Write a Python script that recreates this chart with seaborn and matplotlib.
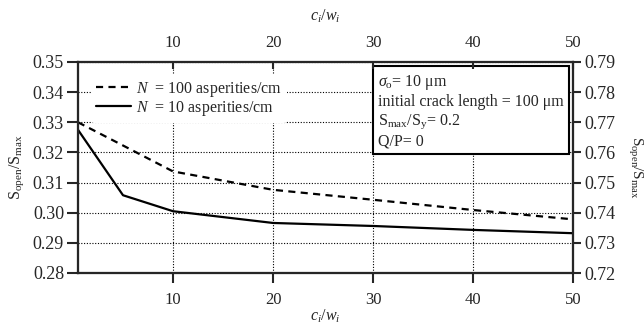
import numpy as np
import pandas as pd
import matplotlib
matplotlib.use("Agg")
import matplotlib.pyplot as plt
import seaborn as sns

# ---- data ----
x_n100 = [0.5, 5, 10, 20, 30, 40, 50]
y_n100 = [0.330, 0.3223, 0.3137, 0.3076, 0.3043, 0.3009, 0.2978]
x_n10 = [0.5, 5, 10, 20, 30, 40, 50]
y_n10 = [0.3275, 0.3058, 0.3005, 0.2966, 0.2956, 0.2943, 0.2932]
series_labels = [r"$N$  = 100 asperities/cm", r"$N$  = 10 asperities/cm"]
x_ticks = [10, 20, 30, 40, 50]
y_ticks_left = [0.28, 0.29, 0.30, 0.31, 0.32, 0.33, 0.34, 0.35]
y_ticks_right = [0.72, 0.73, 0.74, 0.75, 0.76, 0.77, 0.78, 0.79]
info_lines = [r"$\sigma_{\rm o}$= 10 μm",
              "initial crack length = 100 μm",
              r"S$_{\rm max}$/S$_{\rm y}$= 0.2",
              "Q/P= 0"]

sns.set_style("white")
plt.rcParams['font.family'] = ['Liberation Serif', 'DejaVu Serif']
plt.rcParams['mathtext.fontset'] = 'custom'
plt.rcParams['mathtext.rm'] = 'Liberation Serif'
plt.rcParams['mathtext.it'] = 'Liberation Serif:italic'
plt.rcParams['mathtext.bf'] = 'Liberation Serif:bold'
plt.rcParams['font.size'] = 11

df = pd.concat([
    pd.DataFrame({"x": x_n100, "y": y_n100, "series": series_labels[0]}),
    pd.DataFrame({"x": x_n10, "y": y_n10, "series": series_labels[1]}),
])

fig = plt.figure(figsize=(6.44, 3.28), dpi=100)
ax = fig.add_axes([78/644, 1-273/328, (573-78)/644, (273-62)/328])

sns.lineplot(data=df, x="x", y="y", style="series", color="black",
             dashes={series_labels[0]: (3.2, 2.4), series_labels[1]: ""},
             linewidth=1.6, ax=ax, legend=True)

ax.set_xlim(0.5, 50)
ax.set_ylim(0.28, 0.35)
ax.set_xticks(x_ticks)
ax.set_yticks(y_ticks_left)
ax.set_yticklabels([f"{v:.2f}" for v in y_ticks_left])
ax.grid(True, color="black", linestyle=(0, (1, 1.5)), linewidth=0.8)
ax.set_axisbelow(True)
ax.tick_params(axis="x", direction="out", length=7, width=1.5, pad=7, labelsize=12)
ax.tick_params(axis="y", direction="out", length=8, width=1.5, pad=2, labelsize=13)
for s in ax.spines.values():
    s.set_linewidth(1.5)
    s.set_color("black")
ax.set_xlabel(r"$c_i/w_i$", fontsize=11.5, va="center")
ax.xaxis.set_label_coords(0.5, (273 - 316) / 211)
ax.set_ylabel(r"S$_{\rm open}$/S$_{\rm max}$", fontsize=11.5, va="center")
ax.yaxis.set_label_coords((17 - 78) / 495, 0.5)

handles, labels = ax.get_legend_handles_labels()
leg = ax.legend(handles, labels, loc="upper left", bbox_to_anchor=(0.01, 0.975),
                frameon=True, facecolor="white", edgecolor="none", framealpha=1,
                handlelength=2.2, handletextpad=0.35, labelspacing=0.0,
                borderpad=0.3, fontsize=11.5)

ax.text(0.606, 0.95, "\n".join(info_lines), transform=ax.transAxes,
        ha="left", va="top", fontsize=11.5, linespacing=1.2,
        bbox=dict(boxstyle="square,pad=0.3", facecolor="white",
                  edgecolor="black", linewidth=1.5), zorder=5)

# top axis
axt = ax.twiny()
axt.set_xlim(ax.get_xlim())
axt.set_xticks(x_ticks)
axt.tick_params(axis="x", direction="in", length=5, width=1.5, pad=8, labelsize=12)
axt.set_xlabel(r"$c_i/w_i$", fontsize=11.5, va="center")
axt.xaxis.set_label_coords(0.5, (273 - 16) / 211)
axt.grid(False)

# right axis
axr = ax.twinx()
axr.set_ylim(0.72, 0.79)
axr.set_yticks(y_ticks_right)
axr.set_yticklabels([f"{v:.2f}" for v in y_ticks_right])
axr.tick_params(axis="y", direction="out", length=6, width=1.5, pad=2, labelsize=13)
axr.set_ylabel(r"S$_{\rm open}$/S$_{\rm max}$", fontsize=11, rotation=-90,
               va="center", ha="center")
axr.yaxis.set_label_coords((635 - 78) / 495, 0.5)
axr.grid(False)
for a in (axt, axr):
    for s in a.spines.values():
        s.set_linewidth(1.5)

fig.savefig("out.png", dpi=100)
